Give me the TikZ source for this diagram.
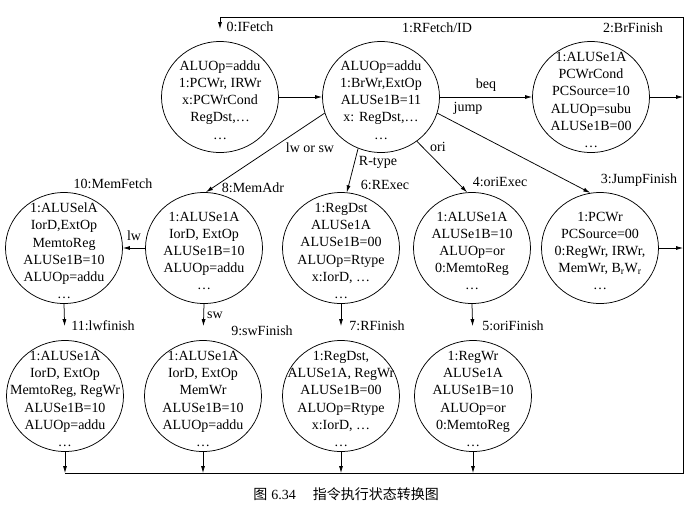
\documentclass[tikz,border=0pt]{standalone}
\usepackage{fontspec}
\setmainfont{Liberation Serif}
\newfontfamily\cjk{Noto Sans CJK SC}
\usetikzlibrary{shapes.geometric,arrows.meta}
\begin{document}
\begin{tikzpicture}[x=1pt,y=-1pt,
  state/.style={draw, ellipse, minimum width=117pt, minimum height=111pt, inner sep=0pt, line width=0.75pt},
  stext/.style={align=center, font=\fontsize{14}{17.2}\selectfont, inner sep=0pt},
  lab/.style={font=\fontsize{14}{16}\selectfont, inner sep=0pt},
  arr/.style={-{Latex[length=7pt,width=4pt]}, line width=0.75pt},
  ln/.style={line width=0.75pt}]
\useasboundingbox (0,0) rectangle (697,515);

% states
\node[state] (IF) at (220,97) {};
\node[state] (RF) at (381,97) {};
\node[state] (BR) at (591,97) {};
\node[state] (MF) at (64,248) {};
\node[state] (MA) at (204,248) {};
\node[state] (RE) at (341,248) {};
\node[state] (OE) at (472,248) {};
\node[state] (JF) at (600,248) {};
\node[state] (LF) at (65,396) {};
\node[state] (SF) at (203,396) {};
\node[state] (RN) at (341,396) {};
\node[state] (OF) at (473,396) {};

% state contents
\node[stext] (IFt) at (220,100) {ALUOp=addu\\1:PCWr, IRWr\\x:PCWrCond\\RegDst,…\\…};
\node[stext] (RFt) at (381,100) {ALUOp=addu\\1:BrWr,ExtOp\\ALUSe1B=11\\x: RegDst,…\\…};
\node[stext] (BRt) at (591,100) {1:ALUSe1A\\PCWrCond\\PCSource=10\\ALUOp=subu\\ALUSe1B=00\\…};
\node[stext] (MFt) at (64,251) {1:ALUSelA\\IorD,ExtOp\\MemtoReg\\ALUSe1B=10\\ALUOp=addu\\…};
\node[stext] (MAt) at (204,251) {1:ALUSe1A\\IorD, ExtOp\\ALUSe1B=10\\ALUOp=addu\\…};
\node[stext] (REt) at (341,251) {1:RegDst\\ALUSe1A\\ALUSe1B=00\\ALUOp=Rtype\\x:IorD, …\\…};
\node[stext] (OEt) at (472,251) {1:ALUSe1A\\ALUSe1B=10\\ALUOp=or\\0:MemtoReg\\…};
\node[stext] (JFt) at (600,251) {1:PCWr\\PCSource=00\\0:RegWr, IRWr,\\MemWr, B\textsubscript{r}W\textsubscript{r}\\…};
\node[stext] (LFt) at (65,399) {1:ALUSe1A\\IorD, ExtOp\\MemtoReg, RegWr\\ALUSe1B=10\\ALUOp=addu\\…};
\node[stext] (SFt) at (203,399) {1:ALUSe1A\\IorD, ExtOp\\MemWr\\ALUSe1B=10\\ALUOp=addu\\…};
\node[stext] (RNt) at (341,399) {1:RegDst,\\ALUSe1A, RegWr\\ALUSe1B=00\\ALUOp=Rtype\\x:IorD, …\\…};
\node[stext] (OFt) at (473,399) {1:RegWr\\ALUSe1A\\ALUSe1B=10\\ALUOp=or\\0:MemtoReg\\…};

% state names
\node[lab] (IFn) at (250,27) {0:IFetch};
\node[lab] (RFn) at (437,28) {1:RFetch/ID};
\node[lab] (BRn) at (633,28) {2:BrFinish};
\node[lab] (MFn) at (113,184) {10:MemFetch};
\node[lab] (MAn) at (253,188) {8:MemAdr};
\node[lab] (REn) at (385,185) {6:RExec};
\node[lab] (OEn) at (500,182) {4:oriExec};
\node[lab] (JFn) at (639,180) {3:JumpFinish};
\node[lab] (LFn) at (103,326) {11:lwfinish};
\node[lab] (SFn) at (262,331) {9:swFinish};
\node[lab] (RNn) at (377,326) {7:RFinish};
\node[lab] (OFn) at (513,326) {5:oriFinish};

% frame coordinates
\coordinate (bl) at (65,473);
\coordinate (br) at (683,473);
\coordinate (tr) at (683,17);
\coordinate (tl) at (220,17);

% transitions
\draw[arr] (IF) -- (RF);
\draw[arr] (RF) -- node[lab, above=5pt] (beq) {beq} (BR);
\draw[arr] (RF.344) -- (JF.100);
\node[lab] (jump) at (468,108) {jump};
\draw[arr] (RF.196) -- (MA.88);
\node[lab] (lws) at (310,148) {lw or sw};
\draw[arr] (RF.246) -- (RE.84);
\node[lab] (rt) at (378,162) {R-type};
\draw[arr] (RF.309) -- (OE.95);
\node[lab] (ori) at (438,147) {ori};
\draw[arr] (MA) -- (MF);
\node[lab] (lw) at (134,236) {lw};
\draw[arr, shorten >=14pt] (MA.south) -- (SF.north);
\node[lab] (sw) at (215,315) {sw};
\draw[arr, shorten >=14pt] (MF.south) -- (LF.north);
\draw[arr, shorten >=14pt] (RE.south) -- (RN.north);
\draw[arr, shorten >=14pt] (OE.south) -- (OF.north);

% to the frame
\draw[arr] (BR.east) -- (BR.east -| br);
\draw[arr] (JF.east) -- (JF.east -| br);
\draw[arr] (LF.south) -- (LF.south |- bl);
\draw[arr] (SF.south) -- (SF.south |- bl);
\draw[arr] (RN.south) -- (RN.south |- bl);
\draw[arr] (OF.south) -- (OF.south |- bl);
\draw[arr, shorten >=12pt] (bl) -- (br) -- (tr) -- (tl) -- (IF.north);

% caption
\node[inner sep=0pt, font=\fontsize{14}{16}\selectfont] (cap) at (346,494)
  {{\cjk 图}\hspace{0.3em}6.34\hspace{1.2em}{\cjk 指令执行状态转换图}};
\end{tikzpicture}
\end{document}
